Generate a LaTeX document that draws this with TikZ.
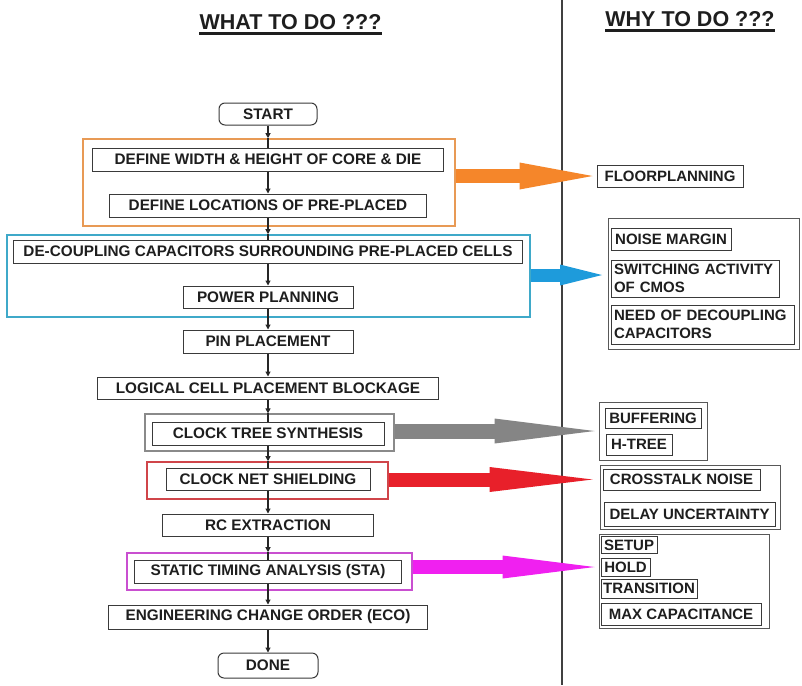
\documentclass[tikz,border=0pt]{standalone}
\usepackage{fontspec}
\setmainfont{Liberation Sans}
\usetikzlibrary{arrows.meta}
\definecolor{ofr}{HTML}{E89A55}
\definecolor{oar}{HTML}{F5862A}
\definecolor{bfr}{HTML}{3FA9C9}
\definecolor{bar}{HTML}{1E9BDB}
\definecolor{gfr}{HTML}{8A8A8A}
\definecolor{gar}{HTML}{858585}
\definecolor{rfr}{HTML}{D0454A}
\definecolor{rar}{HTML}{E8202A}
\definecolor{mfr}{HTML}{C94FD0}
\definecolor{mar}{HTML}{F020F0}
\definecolor{txt}{HTML}{1E1E1E}
\definecolor{edgec}{HTML}{3A3A3A}
\begin{document}
\begin{tikzpicture}[x=1pt,y=-1pt,
  stepbox/.style={draw=edgec, line width=1pt, fill=white, inner sep=0pt, text=txt,
    font=\fontsize{15.3}{18}\selectfont\bfseries},
  rightbox/.style={stepbox, font=\fontsize{15}{18}\selectfont\bfseries},
  termbox/.style={stepbox, rounded corners=6pt},
  frm/.style={line width=1.6pt, inner sep=0pt},
  grp/.style={draw=edgec!85, line width=1pt, inner sep=0pt},
  flowarr/.style={line width=1.1pt, draw=black!85, -{Triangle[length=5pt,width=5pt]}},
  flowln/.style={line width=1.1pt, draw=black!85},
  hdr/.style={font=\fontsize{21.5}{24}\selectfont\bfseries, text=txt, inner sep=0pt, anchor=base},
]
\useasboundingbox (0,0) rectangle (802,685);
\fill[white] (0,0) rectangle (802,685);

% divider
\draw[line width=1.2pt, black!75] (562,0) -- (562,685);

% headers
\node[hdr] (hw) at (290.5,30) {WHAT TO DO ???};
\node[hdr] (hy) at (690,27) {WHY TO DO ???};
\draw[line width=2.2pt, txt] ([yshift=-3.5pt]hw.base west) -- ([yshift=-3.5pt]hw.base east);
\draw[line width=2.2pt, txt] ([yshift=-3.5pt]hy.base west) -- ([yshift=-3.5pt]hy.base east);

% colored frames
\node[frm, draw=ofr, minimum width=372pt, minimum height=87pt] (fo) at (269,182.5) {};
\node[frm, draw=bfr, minimum width=523pt, minimum height=82pt] (fb) at (268.5,276) {};
\node[frm, draw=gfr, line width=1.3pt, minimum width=249pt, minimum height=37pt] (fcts) at (269.5,432.5) {};
\node[frm, draw=rfr, minimum width=241pt, minimum height=37pt] (fcns) at (267.5,480.5) {};
\node[frm, draw=mfr, minimum width=285pt, minimum height=37pt] (fsta) at (269.5,571.5) {};

% flow boxes
\node[termbox, minimum width=98pt, minimum height=22pt] (start) at (268,114) {START};
\node[stepbox, minimum width=351pt, minimum height=23pt] (dw) at (268,159.5) {DEFINE WIDTH \& HEIGHT OF CORE \& DIE};
\node[stepbox, minimum width=317pt, minimum height=23pt] (dl) at (268,205.5) {DEFINE LOCATIONS OF PRE-PLACED};
\node[stepbox, minimum width=509pt, minimum height=23pt] (dc) at (268,251.5) {DE-COUPLING CAPACITORS SURROUNDING PRE-PLACED CELLS};
\node[stepbox, minimum width=170pt, minimum height=22pt] (pp) at (268,297) {POWER PLANNING};
\node[stepbox, minimum width=170pt, minimum height=23pt] (pin) at (268,341.5) {PIN PLACEMENT};
\node[stepbox, minimum width=341pt, minimum height=22pt] (lcpb) at (268,388) {LOGICAL CELL PLACEMENT BLOCKAGE};
\node[stepbox, minimum width=232pt, minimum height=23pt] (cts) at (268,433.5) {CLOCK TREE SYNTHESIS};
\node[stepbox, minimum width=204pt, minimum height=22pt] (cns) at (268,479) {CLOCK NET SHIELDING};
\node[stepbox, minimum width=211pt, minimum height=22pt] (rc) at (268,525) {RC EXTRACTION};
\node[stepbox, minimum width=267pt, minimum height=23pt] (sta) at (268,571.5) {STATIC TIMING ANALYSIS (STA)};
\node[stepbox, minimum width=319pt, minimum height=24pt] (eco) at (268,617) {ENGINEERING CHANGE ORDER (ECO)};
\node[termbox, minimum width=100pt, minimum height=25pt] (done) at (268,665.5) {DONE};

% flow connectors
\draw[flowarr] (start.south) -- (start.south |- fo.north);
\draw[flowln] (dw.north |- fo.north) -- (dw.north);
\draw[flowarr] (dw.south) -- (dl.north);
\draw[flowarr] (dl.south) -- (dl.south |- fb.north);
\draw[flowln] (dc.north |- fb.north) -- (dc.north);
\draw[flowarr] (dc.south) -- (pp.north);
\draw[flowarr] (pp.south) -- (pin.north);
\draw[flowarr] (pin.south) -- (lcpb.north);
\draw[flowarr] (lcpb.south) -- (lcpb.south |- fcts.north);
\draw[flowln] (cts.north |- fcts.north) -- (cts.north);
\draw[flowarr] (cts.south) -- (cts.south |- fcns.north);
\draw[flowln] (cns.north |- fcns.north) -- (cns.north);
\draw[flowarr] (cns.south) -- (rc.north);
\draw[flowarr] (rc.south) -- (rc.south |- fsta.north);
\draw[flowln] (sta.north |- fsta.north) -- (sta.north);
\draw[flowarr] (sta.south) -- (eco.north);
\draw[flowarr] (eco.south) -- (done.north);

% right column groups
\node[grp, minimum width=191pt, minimum height=131pt] (gnoise) at (703.5,283.5) {};
\node[grp, minimum width=108pt, minimum height=58pt] (gbuf) at (653,431) {};
\node[grp, minimum width=180pt, minimum height=64pt] (gcross) at (690,497) {};
\node[grp, minimum width=170pt, minimum height=94pt] (gsetup) at (684,581) {};

% right column boxes
\node[rightbox, minimum width=146pt, minimum height=22pt] (floor) at (670,176) {FLOORPLANNING};
\node[rightbox, minimum width=120pt, minimum height=22pt] (nm) at (671,239) {NOISE MARGIN};
\node[rightbox, minimum width=168pt, minimum height=37pt, text width=162pt, align=left] (sw) at (695,278.5) {SWITCHING ACTIVITY\\OF CMOS};
\node[rightbox, minimum width=183pt, minimum height=39pt, text width=177pt, align=left] (need) at (702.5,324.5) {NEED OF DECOUPLING\\CAPACITORS};
\node[rightbox, minimum width=96pt, minimum height=20pt] (buf) at (653,418) {BUFFERING};
\node[rightbox, minimum width=66pt, minimum height=21pt] (htree) at (639,444.5) {H-TREE};
\node[rightbox, minimum width=157pt, minimum height=21pt] (cn) at (681.5,479.5) {CROSSTALK NOISE};
\node[rightbox, minimum width=171pt, minimum height=24pt] (du) at (689.5,514) {DELAY UNCERTAINTY};
\node[rightbox, minimum width=56pt, minimum height=17pt] (setup) at (629,545) {SETUP};
\node[rightbox, minimum width=49pt, minimum height=18pt] (hold) at (625.5,567) {HOLD};
\node[rightbox, minimum width=96pt, minimum height=19pt] (trans) at (649,588.5) {TRANSITION};
\node[rightbox, minimum width=160pt, minimum height=22pt] (maxc) at (681,614) {MAX CAPACITANCE};

% block arrows
\coordinate (tipb) at (602,275);
\draw[line width=14pt, oar, -{Triangle[length=73pt,width=27pt,line width=0pt]}]
  (fo.east |- floor.west) -- ([xshift=-4pt]floor.west);
\draw[line width=13pt, bar, -{Triangle[length=42pt,width=21pt,line width=0pt]}]
  (fb.east |- tipb) -- (tipb);
\draw[line width=15pt, gar, -{Triangle[length=100pt,width=25pt,line width=0pt]}]
  (fcts.east |- gbuf.west) -- ([xshift=-4pt]gbuf.west);
\draw[line width=14pt, rar, -{Triangle[length=103pt,width=25pt,line width=0pt]}]
  (fcns.east |- cn.west) -- ([xshift=-10pt]cn.west);
\draw[line width=14pt, mar, -{Triangle[length=92pt,width=23pt,line width=0pt]}]
  (fsta.east |- hold.west) -- ([xshift=-6pt]hold.west);
\end{tikzpicture}
\end{document}
